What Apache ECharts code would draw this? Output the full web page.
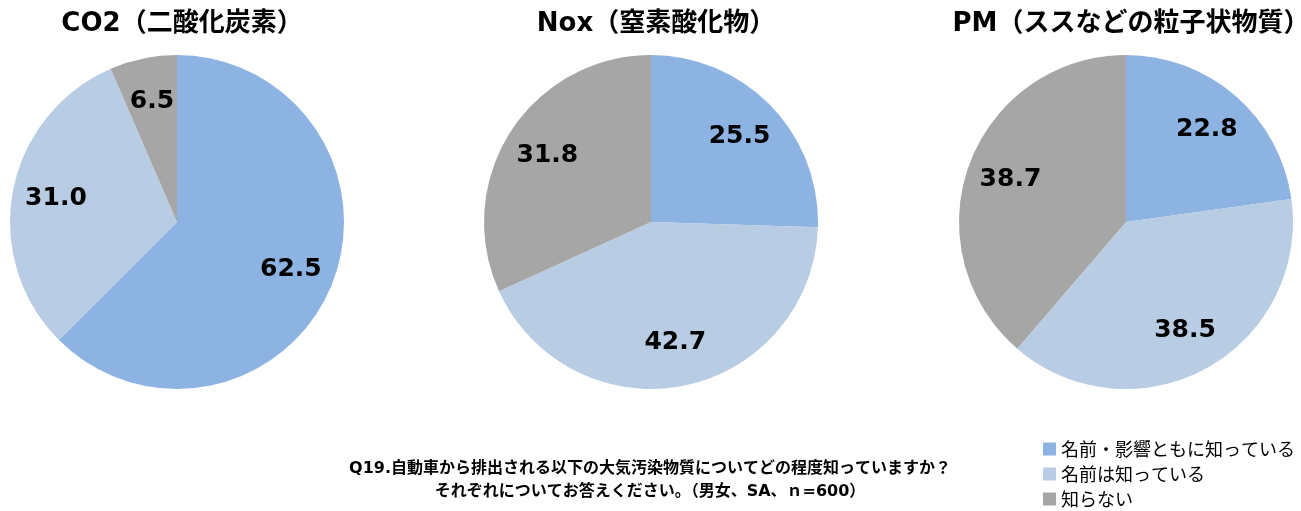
<!DOCTYPE html>
<html>
<head>
<meta charset="utf-8">
<script src="https://cdn.jsdelivr.net/npm/echarts@6/dist/echarts.min.js"></script>
<style>
  html, body { margin: 0; padding: 0; background: #fff; }
  #main { width: 1301px; height: 511px; }
</style>
</head>
<body>
<div id="main"></div>
<script>
// 凡例の項目
var categories = ['名前・影響ともに知っている', '名前は知っている', '知らない'];
// 各円グラフのタイトル
var pieTitles = ['CO2（二酸化炭素）', 'Nox（窒素酸化物）', 'PM（ススなどの粒子状物質）'];
// 値（%）
var co2Values = [62.5, 31.0, 6.5];
var noxValues = [25.5, 42.7, 31.8];
var pmValues = [22.8, 38.5, 38.7];

var colors = ['#8DB3E2', '#B8CCE4', '#A6A6A6'];
var latinFont = '"DejaVu Sans", "Noto Sans CJK JP", sans-serif';
var cjkFont = '"Noto Sans CJK JP", sans-serif';

var centersX = [177, 651, 1126];
var centerY = 222;
var radius = 167;

function toData(values) {
    return values.map(function (v, i) {
        return { name: categories[i], value: v };
    });
}

var allValues = [co2Values, noxValues, pmValues];
var series = [];
var titles = [];

allValues.forEach(function (vals, k) {
    // 扇形本体
    series.push({
        type: 'pie',
        center: [centersX[k], centerY],
        radius: [0, radius],
        startAngle: 90,
        clockwise: true,
        animation: false,
        label: { show: false },
        labelLine: { show: false },
        emphasis: { disabled: true },
        data: toData(vals)
    });
    // ラベル用（透明）
    series.push({
        type: 'pie',
        center: [centersX[k], centerY],
        radius: [radius * 0.44, radius],
        startAngle: 90,
        clockwise: true,
        animation: false,
        silent: true,
        legendHoverLink: false,
        itemStyle: { color: 'rgba(0,0,0,0)' },
        label: {
            show: true,
            position: 'inside',
            color: '#000',
            fontSize: 25,
            fontWeight: 'bold',
            fontFamily: latinFont,
            formatter: function (p) { return p.value.toFixed(1); }
        },
        labelLine: { show: false },
        data: toData(vals).map(function (d) {
            return { name: d.name + ' ', value: d.value };
        })
    });
    titles.push({
        text: pieTitles[k],
        left: centersX[k],
        top: 6,
        textAlign: 'center',
        textStyle: {
            fontSize: 26,
            fontWeight: 'bold',
            color: '#000',
            fontFamily: latinFont
        }
    });
});

titles.push({
    text: 'Q19.自動車から排出される以下の大気汚染物質についてどの程度知っていますか？\nそれぞれについてお答えください。（男女、SA、ｎ=600）',
    left: 645,
    top: 452,
    textAlign: 'center',
    textStyle: {
        fontSize: 16,
        fontWeight: 'bold',
        color: '#000',
        lineHeight: 23,
        fontFamily: latinFont
    }
});

var myChart = echarts.init(document.getElementById('main'));
var option = {
    color: colors,
    title: titles,
    legend: {
        data: categories,
        orient: 'vertical',
        left: 1043,
        top: 440,
        height: 80,
        padding: 0,
        itemWidth: 13,
        itemHeight: 13,
        itemGap: 7,
        icon: 'rect',
        textStyle: { fontSize: 18, color: '#000', fontFamily: cjkFont }
    },
    series: series
};
myChart.setOption(option);
</script>
</body>
</html>
